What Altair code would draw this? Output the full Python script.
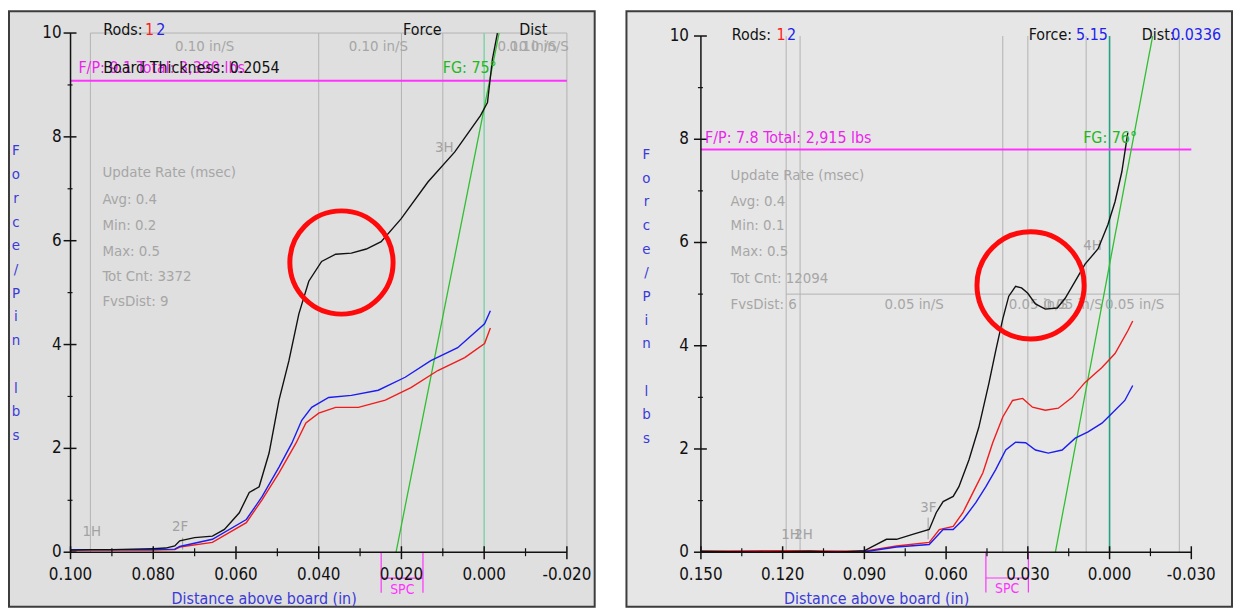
import altair as alt
import pandas as pd

FONT = "Liberation Sans Narrow, DejaVu Sans Condensed, Liberation Sans, Arial, sans-serif"

# ======================= LEFT PANEL DATA =======================
L_black_x = [0.100, 0.095, 0.090, 0.085, 0.080, 0.077, 0.0748, 0.0736, 0.070, 0.0657, 0.0628, 0.0592,
             0.0568, 0.0544, 0.052, 0.0496, 0.0472, 0.0448, 0.0424, 0.0393, 0.0359, 0.0321, 0.0285,
             0.0249, 0.0201, 0.0136, 0.0071, 0.0009, -0.0008, -0.002, -0.0032]
L_black_y = [0.04, 0.05, 0.05, 0.06, 0.07, 0.08, 0.12, 0.22, 0.28, 0.31, 0.44, 0.76,
             1.15, 1.26, 1.91, 2.93, 3.69, 4.59, 5.22, 5.60, 5.74, 5.76, 5.84,
             5.98, 6.42, 7.13, 7.71, 8.41, 8.66, 9.5, 10.0]
L_blue_x = [0.100, 0.0808, 0.0748, 0.0736, 0.0657, 0.0575, 0.0537, 0.0496, 0.0465, 0.0441, 0.0417,
            0.0376, 0.0321, 0.0256, 0.0191, 0.0129, 0.0064, -0.0001, -0.0015]
L_blue_y = [0.05, 0.05, 0.06, 0.11, 0.25, 0.63, 1.07, 1.64, 2.10, 2.54, 2.79,
            2.98, 3.02, 3.12, 3.37, 3.69, 3.94, 4.40, 4.65]
L_red_x = [0.100, 0.0808, 0.0748, 0.0736, 0.0657, 0.0575, 0.0537, 0.0496, 0.0455, 0.0431, 0.040,
           0.0359, 0.0304, 0.0239, 0.0177, 0.0112, 0.0047, -0.0001, -0.0015]
L_red_y = [0.04, 0.04, 0.05, 0.10, 0.19, 0.57, 1.01, 1.53, 2.10, 2.49, 2.68,
           2.79, 2.79, 2.93, 3.17, 3.50, 3.75, 4.02, 4.32]
L_green_x = [0.0213, -0.0036]
L_green_y = [0.0, 10.0]
L_markers = [0.0952, 0.040, 0.020, 0.010, -0.020]
L_teal = 0.000
L_fp = 9.08
L_xticks = [0.100, 0.080, 0.060, 0.040, 0.020, 0.000, -0.020]
L_xtick_labels = ["0.100", "0.080", "0.060", "0.040", "0.020", "0.000", "-0.020"]
L_xminor = [0.090, 0.070, 0.050, 0.030, 0.010, -0.010]
L_yticks = [0, 2, 4, 6, 8, 10]
L_ytick_labels = ["0", "2", "4", "6", "8", "10"]
L_yminor = [1, 3, 5, 7, 9]
L_stats = ["Update Rate (msec)", "Avg: 0.4", "Min: 0.2", "Max: 0.5", "Tot Cnt: 3372", "FvsDist: 9"]
L_stats_y = [7.32, 6.81, 6.31, 5.81, 5.32, 4.84]
L_speed_x = [0.0676, 0.0256, -0.0104, -0.0133]

# ======================= RIGHT PANEL DATA =======================
R_black_x = [0.150, 0.130, 0.110, 0.100, 0.0899, 0.0855, 0.0819, 0.0782, 0.0720, 0.0662, 0.0636,
             0.0611, 0.0574, 0.0553, 0.0516, 0.0480, 0.0443, 0.0418, 0.0392, 0.0370, 0.0345,
             0.0323, 0.0301, 0.0272, 0.0236, 0.0192, 0.0163, 0.0126, 0.0090, 0.0042, 0.0006,
             -0.0020, -0.0045, -0.0067]
R_black_y = [0.02, 0.0, 0.02, 0.0, 0.03, 0.15, 0.25, 0.25, 0.35, 0.44, 0.77,
             0.98, 1.08, 1.27, 1.79, 2.42, 3.27, 3.90, 4.52, 4.96, 5.15,
             5.12, 5.02, 4.81, 4.71, 4.73, 4.92, 5.25, 5.58, 5.88, 6.35,
             6.79, 7.37, 8.13]
R_red_x = [0.150, 0.120, 0.090, 0.0782, 0.0662, 0.0625, 0.0574, 0.0538, 0.0502, 0.0465, 0.0429,
           0.0392, 0.0356, 0.0319, 0.0283, 0.0236, 0.0188, 0.0137, 0.0090, 0.0028, -0.0020,
           -0.0067, -0.0085]
R_red_y = [0.02, 0.03, 0.02, 0.12, 0.19, 0.44, 0.50, 0.77, 1.15, 1.54, 2.12,
           2.62, 2.94, 2.98, 2.81, 2.75, 2.79, 3.00, 3.29, 3.58, 3.85,
           4.29, 4.48]
R_blue_x = [0.150, 0.120, 0.090, 0.0782, 0.0662, 0.0611, 0.0574, 0.0538, 0.0491, 0.0454, 0.0418,
            0.0381, 0.0345, 0.0308, 0.0272, 0.0225, 0.0174, 0.0126, 0.0079, 0.0028, -0.0009,
            -0.0056, -0.0085]
R_blue_y = [0.01, 0.0, 0.01, 0.10, 0.15, 0.44, 0.44, 0.63, 0.96, 1.27, 1.60,
            1.98, 2.13, 2.12, 1.98, 1.92, 1.98, 2.21, 2.33, 2.50, 2.69,
            2.94, 3.23]
R_green_x = [0.0199, -0.0158]
R_green_y = [0.0, 10.0]
R_markers = [0.1187, 0.1136, 0.0392, 0.030, 0.0086, -0.0256]
R_teal = 0.000
R_fp = 7.8
R_xticks = [0.150, 0.120, 0.090, 0.060, 0.030, 0.000, -0.030]
R_xtick_labels = ["0.150", "0.120", "0.090", "0.060", "0.030", "0.000", "-0.030"]
R_xminor = [0.135, 0.105, 0.075, 0.045, 0.015, -0.015]
R_yticks = [0, 2, 4, 6, 8, 10]
R_ytick_labels = ["0", "2", "4", "6", "8", "10"]
R_yminor = [1, 3, 5, 7, 9]
R_stats = ["Update Rate (msec)", "Avg: 0.4", "Min: 0.1", "Max: 0.5", "Tot Cnt: 12094", "FvsDist: 6"]
R_stats_y = [7.31, 6.81, 6.33, 5.83, 5.31, 4.81]
R_speed_x = [0.0717, 0.0261, 0.0134, -0.0092]

YTITLE_PARTS = ["\n".join("Force/Pin"), "\n".join("lbs")]

LEFT = dict(
    W=590, H=600, fill="#dfdfdf",
    xdom=[-0.02672, 0.11488], ydom=[-1.0516, 10.4207],
    axis_x=0.100, axis_xend=-0.020,
    black=(L_black_x, L_black_y), red=(L_red_x, L_red_y), blue=(L_blue_x, L_blue_y),
    green=(L_green_x, L_green_y), teal=L_teal, teal_color="#86d4ac",
    markers=L_markers, hlines=[(0.0952, -0.020, 10.0)],
    fp=L_fp, fp_x=(0.100, -0.020),
    xticks=L_xticks, xlabels=L_xtick_labels, xminor=L_xminor,
    yticks=L_yticks, ylabels=L_ytick_labels, yminor=L_yminor,
    stats=L_stats, stats_y=L_stats_y, stats_x=0.0923,
    speed=("0.10 in/S", L_speed_x, 9.75),
    black_txt=[("Rods:", 0.09208, 10.05), ("Force", 0.0196, 10.05), ("Dist", -0.0085, 10.05),
               ("Board Thickness: 0.2054", 0.0921, 9.33)],
    red_txt=[("1", 0.0820, 10.05)], blue_txt=[("2", 0.0793, 10.05)],
    magenta_txt=[("F/P: 9.1   Total: 3,390 lbs", 0.0981, 9.33)],
    green_txt=[("FG: 75°", 0.0100, 9.33)],
    gray_txt=[("3H", 0.0119, 7.80), ("1H", 0.0971, 0.40), ("2F", 0.0755, 0.50)],
    gray_ticks=[(0.0729, 0.05, 0.28)],
    circle=(0.0345, 5.58, 10816),
    spc=(0.0249, 0.0148, 0.0198),
    ytitle_x=0.1132, ytitle_y=[7.74, 3.17], ytitle_lh=23.9,
    xtitle=(0.0532, -0.90),
    ylab_dx=-9,
)

RIGHT = dict(
    W=610, H=600, fill="#e6e6e6",
    xdom=[-0.04494, 0.17733], ydom=[-1.0577, 10.4808],
    axis_x=0.150, axis_xend=-0.030,
    black=(R_black_x, R_black_y), red=(R_red_x, R_red_y), blue=(R_blue_x, R_blue_y),
    green=(R_green_x, R_green_y), teal=R_teal, teal_color="#23a37f",
    markers=R_markers, hlines=[(0.1187, -0.0256, 5.0)],
    fp=R_fp, fp_x=(0.150, -0.030),
    xticks=R_xticks, xlabels=R_xtick_labels, xminor=R_xminor,
    yticks=R_yticks, ylabels=R_ytick_labels, yminor=R_yminor,
    stats=R_stats, stats_y=R_stats_y, stats_x=0.1391,
    speed=("0.05 in/S", R_speed_x, 4.81),
    black_txt=[("Rods:", 0.1387, 10.02), ("Force:", 0.0297, 10.02), ("Dist:", -0.0118, 10.02)],
    red_txt=[("1", 0.1223, 10.02)],
    blue_txt=[("2", 0.1184, 10.02), ("5.15", 0.0123, 10.02), ("0.0336", -0.0226, 10.02)],
    magenta_txt=[("F/P: 7.8   Total: 2,915 lbs", 0.1485, 8.02)],
    green_txt=[("FG: 76°", 0.0097, 8.02)],
    gray_txt=[("4H", 0.0097, 5.96), ("3F", 0.0695, 0.87), ("1H", 0.1205, 0.35), ("2H", 0.1157, 0.35)],
    gray_ticks=[(0.0666, 0.25, 0.67)],
    circle=(0.0290, 5.17, 11664),
    spc=(0.0454, 0.0298, 0.0376),
    ytitle_x=0.170, ytitle_y=[7.71, 3.13], ytitle_lh=23.8,
    xtitle=(0.0855, -0.90),
    ylab_dx=-12,
)


def panel(P):
    xs = alt.Scale(domain=P["xdom"], reverse=True, nice=False, zero=False)
    ys = alt.Scale(domain=P["ydom"], nice=False, zero=False)

    def X(f="x"):
        return alt.X(f"{f}:Q", scale=xs, axis=None)

    def Y(f="y"):
        return alt.Y(f"{f}:Q", scale=ys, axis=None)

    def rule(df, **mk):
        enc = {"x": X("x"), "y": Y("y")}
        if "x2" in df:
            enc["x2"] = alt.X2("x2:Q")
        if "y2" in df:
            enc["y2"] = alt.Y2("y2:Q")
        return alt.Chart(df).mark_rule(**mk).encode(**enc)

    def text(items, color, size=15, align="left", baseline="middle", **mk):
        df = pd.DataFrame(items, columns=["t", "x", "y"])
        return alt.Chart(df).mark_text(color=color, font=FONT, fontSize=size, align=align,
                                       baseline=baseline, **mk).encode(x=X(), y=Y(), text="t:N")

    def line(xy, color, w=1.3):
        xv, yv = xy
        df = pd.DataFrame({"x": xv, "y": yv, "i": list(range(len(xv)))})
        return alt.Chart(df).mark_line(color=color, strokeWidth=w).encode(
            x=X(), y=Y(), order="i:Q")

    layers = []
    ax, axe = P["axis_x"], P["axis_xend"]
    # event marker verticals + gray box lines
    layers.append(rule(pd.DataFrame({"x": P["markers"], "y": 0.0, "y2": 10.0}),
                       color="#b2b2b2", strokeWidth=1))
    layers.append(rule(pd.DataFrame(P["hlines"], columns=["x", "x2", "y"]),
                       color="#b2b2b2", strokeWidth=1))
    # marker ticks
    gt = pd.DataFrame(P["gray_ticks"], columns=["x", "y", "y2"])
    layers.append(rule(gt, color="#9a9a9a", strokeWidth=1))
    # teal zero line
    layers.append(rule(pd.DataFrame({"x": [P["teal"]], "y": [0.0], "y2": [10.0]}),
                       color=P["teal_color"], strokeWidth=1.6))
    # gray text
    layers.append(text(P["gray_txt"], "#a2a2a2", 15))
    layers.append(text([(s, P["stats_x"], y) for s, y in zip(P["stats"], P["stats_y"])],
                       "#a6a6a6", 15))
    lab, sx, sy = P["speed"]
    layers.append(text([(lab, x, sy) for x in sx], "#a6a6a6", 15, align="center"))
    # magenta F/P line
    layers.append(rule(pd.DataFrame({"x": [P["fp_x"][0]], "x2": [P["fp_x"][1]], "y": [P["fp"]]}),
                       color="#ff33ff", strokeWidth=2))
    # SPC bracket
    s1, s2, sc = P["spc"]
    layers.append(rule(pd.DataFrame({"x": [s1, s2], "y": [0.0, 0.0], "y2": [-0.78, -0.78]}),
                       color="#ff33ff", strokeWidth=1.2))
    layers.append(rule(pd.DataFrame({"x": [s1], "x2": [s2], "y": [-0.50]}),
                       color="#ff33ff", strokeWidth=1.2))
    layers.append(text([("SPC", sc, -0.72)], "#ff33ff", 14, align="center"))
    # curves
    layers.append(line(P["green"], "#2fbf2f", 1.3))
    layers.append(line(P["red"], "#f01c1c", 1.4))
    layers.append(line(P["blue"], "#1c1cf0", 1.4))
    layers.append(line(P["black"], "#111111", 1.4))
    # axes
    layers.append(rule(pd.DataFrame({"x": [ax], "y": [0.0], "y2": [10.0]}),
                       color="#111111", strokeWidth=1.5))
    layers.append(rule(pd.DataFrame({"x": [ax], "x2": [axe], "y": [0.0]}),
                       color="#111111", strokeWidth=1.5))
    yt = pd.DataFrame({"x": ax, "x2": ax, "y": P["yticks"], "t": P["ylabels"]})
    layers.append(rule(yt[["x", "x2", "y"]], color="#111111", strokeWidth=1.5,
                       xOffset=-7, x2Offset=6))
    ym = pd.DataFrame({"x": ax, "x2": ax, "y": P["yminor"]})
    layers.append(rule(ym, color="#111111", strokeWidth=1.2, xOffset=-3, x2Offset=2))
    xt = pd.DataFrame({"x": P["xticks"], "y": 0.0, "y2": 0.0, "t": P["xlabels"]})
    layers.append(rule(xt[["x", "y", "y2"]], color="#111111", strokeWidth=1.5,
                       yOffset=-6, y2Offset=7))
    xm = pd.DataFrame({"x": P["xminor"], "y": 0.0, "y2": 0.0})
    layers.append(rule(xm, color="#111111", strokeWidth=1.2, yOffset=-4, y2Offset=4))
    layers.append(alt.Chart(yt).mark_text(font=FONT, fontSize=17, align="right", baseline="middle",
                                          dx=P["ylab_dx"], color="#111111").encode(
        x=X(), y=Y(), text="t:N"))
    layers.append(alt.Chart(xt).mark_text(font=FONT, fontSize=17, align="center", baseline="middle",
                                          dy=23, color="#111111").encode(
        x=X(), y=Y(), text="t:N"))
    # axis titles (stacked letters)
    ydf = pd.DataFrame({"t": YTITLE_PARTS, "x": P["ytitle_x"], "y": P["ytitle_y"]})
    layers.append(alt.Chart(ydf)
                  .mark_text(font=FONT, fontSize=15, color="#3a3ad8", lineBreak="\n",
                             lineHeight=P["ytitle_lh"], align="center", baseline="middle")
                  .encode(x=X(), y=Y(), text="t:N"))
    layers.append(text([("Distance above board (in)", P["xtitle"][0], P["xtitle"][1])],
                       "#3a3ad8", 16, align="center"))
    # header texts
    layers.append(text(P["magenta_txt"], "#ee22ee", 16))
    layers.append(text(P["black_txt"], "#111111", 16))
    layers.append(text(P["red_txt"], "#ff1a1a", 16))
    layers.append(text(P["blue_txt"], "#2222ee", 16))
    layers.append(text(P["green_txt"], "#22b822", 16))
    # red circle highlight
    cx, cy, size = P["circle"]
    layers.append(alt.Chart(pd.DataFrame({"x": [cx], "y": [cy]})).mark_point(
        shape="circle", size=size, filled=False, stroke="#ff0a0a", strokeWidth=5, opacity=1)
        .encode(x=X(), y=Y()))

    return alt.layer(*layers).properties(
        width=P["W"], height=P["H"],
        view=alt.ViewBackground(fill=P["fill"], stroke="#3c3c3c", strokeWidth=2))


chart = alt.hconcat(panel(LEFT), panel(RIGHT), spacing=30).properties(
    padding=0, background="white"
).configure_view(fill="#e0e0e0", stroke="#3c3c3c", strokeWidth=2)

chart.save("out.html", embed_options={"renderer": "svg", "actions": False})
